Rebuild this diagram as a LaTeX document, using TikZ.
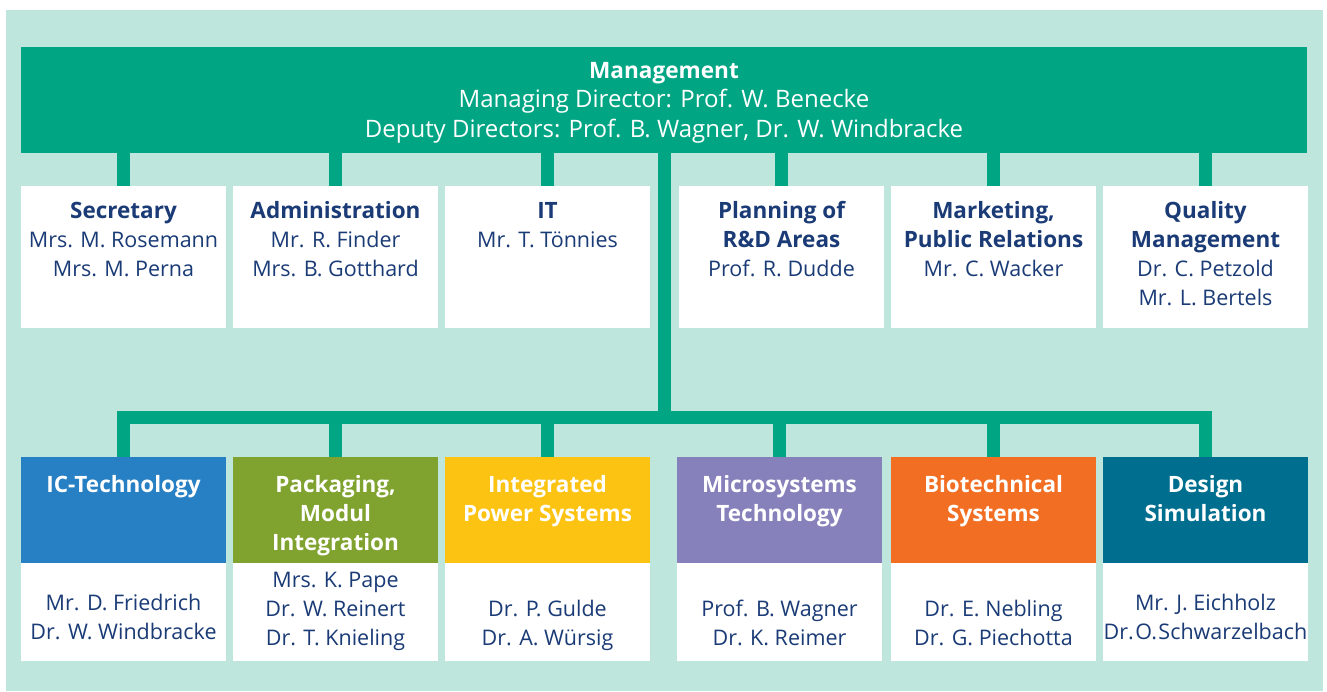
\documentclass[tikz,border=0pt]{standalone}
\usepackage{fontspec}
\setmainfont{Open Sans}
\definecolor{panel}{HTML}{BEE6DC}
\definecolor{mgmtgreen}{HTML}{00A684}
\definecolor{navy}{HTML}{1A3B76}
\definecolor{icblue}{HTML}{2780C4}
\definecolor{pkggreen}{HTML}{80A22E}
\definecolor{ipsyellow}{HTML}{FDC312}
\definecolor{mspurple}{HTML}{8781BB}
\definecolor{bioorange}{HTML}{F26E23}
\definecolor{dsteal}{HTML}{006F8F}
% a block of centred lines whose baseline is that of its first line
\newcommand\linesblock[1]{\begin{tabular}[t]{@{}c@{}}#1\end{tabular}}
\newcommand\hd[1]{{\fontsize{22.5}{29}\selectfont\bfseries #1}}
\begin{document}
\begin{tikzpicture}[x=1pt,y=-1pt,
  every node/.style={inner sep=0pt, outer sep=0pt},
  txt/.style={font=\fontsize{21.5}{29}\selectfont, anchor=base},
  unitbox/.style={rectangle, fill=white, anchor=north west, minimum width=205pt, minimum height=142pt},
  headbox/.style={rectangle, fill=#1, anchor=north west, minimum width=205pt, minimum height=106pt},
  bodybox/.style={rectangle, fill=white, anchor=north west, minimum width=205pt, minimum height=98pt},
  conn/.style={draw=mgmtgreen, line width=13pt},
  unittext/.style={txt, text=navy},
  headtext/.style={txt, text=white},
]
\useasboundingbox (0,0) rectangle (1327,691);
% panel
\fill[panel] (6,10) rectangle (1323,691);

% management
\node[rectangle, fill=mgmtgreen, anchor=north west, minimum width=1286pt, minimum height=106pt] (mgmt) at (21,47) {};

% staff units
\node[unitbox] (sec)  at (21,186)  {};
\node[unitbox] (adm)  at (233,186) {};
\node[unitbox] (it)   at (445,186) {};
\node[unitbox] (plan) at (679,186) {};
\node[unitbox] (mkt)  at (891,186) {};
\node[unitbox] (qm)   at (1103,186) {};

% departments: coloured heading over a white list of names
\node[headbox=icblue]    (ic)  at (21,457)  {};
\node[headbox=pkggreen]  (pkg) at (233,457) {};
\node[headbox=ipsyellow] (ips) at (445,457) {};
\node[headbox=mspurple]  (ms)  at (677,457) {};
\node[headbox=bioorange] (bio) at (891,457) {};
\node[headbox=dsteal]    (ds)  at (1103,457) {};

\node[bodybox] (icB)  at (ic.south west)  {};
\node[bodybox] (pkgB) at (pkg.south west) {};
\node[bodybox] (ipsB) at (ips.south west) {};
\node[bodybox] (msB)  at (ms.south west)  {};
\node[bodybox] (bioB) at (bio.south west) {};
\node[bodybox] (dsB)  at (ds.south west)  {};

% connectors
\foreach \u in {sec,adm,it,plan,mkt,qm}
  \draw[conn] (mgmt.south -| \u.north) -- (\u.north);
\coordinate (bus) at (664,417.5);
\draw[conn] (mgmt.south) -- (bus);
\draw[conn, line join=miter] (ic.north) |- (bus) -| (ds.north);
\foreach \d in {pkg,ips,ms,bio}
  \draw[conn] (\d.north |- bus) -- (\d.north);

% texts
\coordinate (m1) at (0,78);
\node[txt, text=white, font=\fontsize{24}{29.5}\selectfont] (mgmtT) at (mgmt.north |- m1)
  {\begin{tabular}[t]{@{}c@{}}{\fontsize{22.6}{29.5}\selectfont\bfseries Management}\\Managing Director: Prof. W. Benecke\\Deputy Directors: Prof. B. Wagner, Dr. W. Windbracke\end{tabular}};

\coordinate (r1) at (0,218);
\node[unittext] (secT)  at (sec.north |- r1)  {\linesblock{\hd{Secretary}\\Mrs. M. Rosemann\\Mrs. M. Perna}};
\node[unittext] (admT)  at (adm.north |- r1)  {\linesblock{\hd{Administration}\\Mr. R. Finder\\Mrs. B. Gotthard}};
\node[unittext] (itT)   at (it.north |- r1)   {\linesblock{\hd{IT}\\Mr. T. Tönnies}};
\node[unittext] (planT) at (plan.north |- r1) {\linesblock{\hd{Planning of}\\\hd{R\&D Areas}\\Prof. R. Dudde}};
\node[unittext] (mktT)  at (mkt.north |- r1)  {\linesblock{\hd{Marketing,}\\\hd{Public Relations}\\Mr. C. Wacker}};
\node[unittext] (qmT)   at (qm.north |- r1)   {\linesblock{\hd{Quality}\\\hd{Management}\\Dr. C. Petzold\\Mr. L. Bertels}};

\coordinate (r2) at (0,492);
\node[headtext] (icT)  at (ic.north |- r2)  {\linesblock{\hd{IC-Technology}}};
\node[headtext] (pkgT) at (pkg.north |- r2) {\linesblock{\hd{Packaging,}\\\hd{Modul}\\\hd{Integration}}};
\node[headtext] (ipsT) at (ips.north |- r2) {\linesblock{\hd{Integrated}\\\hd{Power Systems}}};
\node[headtext] (msT)  at (ms.north |- r2)  {\linesblock{\hd{Microsystems}\\\hd{Technology}}};
\node[headtext] (bioT) at (bio.north |- r2) {\linesblock{\hd{Biotechnical}\\\hd{Systems}}};
\node[headtext] (dsT)  at (ds.north |- r2)  {\linesblock{\hd{Design}\\\hd{Simulation}}};

\coordinate (b1) at (0,610);
\coordinate (b2) at (0,587);
\coordinate (b3) at (0,616);
\node[unittext] (icN)  at (ic.north |- b1)  {\linesblock{Mr. D. Friedrich\\Dr. W. Windbracke}};
\node[unittext] (pkgN) at (pkg.north |- b2) {\linesblock{Mrs. K. Pape\\Dr. W. Reinert\\Dr. T. Knieling}};
\node[unittext] (ipsN) at (ips.north |- b3) {\linesblock{Dr. P. Gulde\\Dr. A. Würsig}};
\node[unittext] (msN)  at (ms.north |- b3)  {\linesblock{Prof. B. Wagner\\Dr. K. Reimer}};
\node[unittext] (bioN) at (bio.north |- b3) {\linesblock{Dr. E. Nebling\\Dr. G. Piechotta}};
\node[unittext] (dsN)  at (ds.north |- b1)  {\linesblock{Mr. J. Eichholz\\Dr.\kern1.5pt O.\kern1.5pt Schwarzelbach}};
\end{tikzpicture}
\end{document}
